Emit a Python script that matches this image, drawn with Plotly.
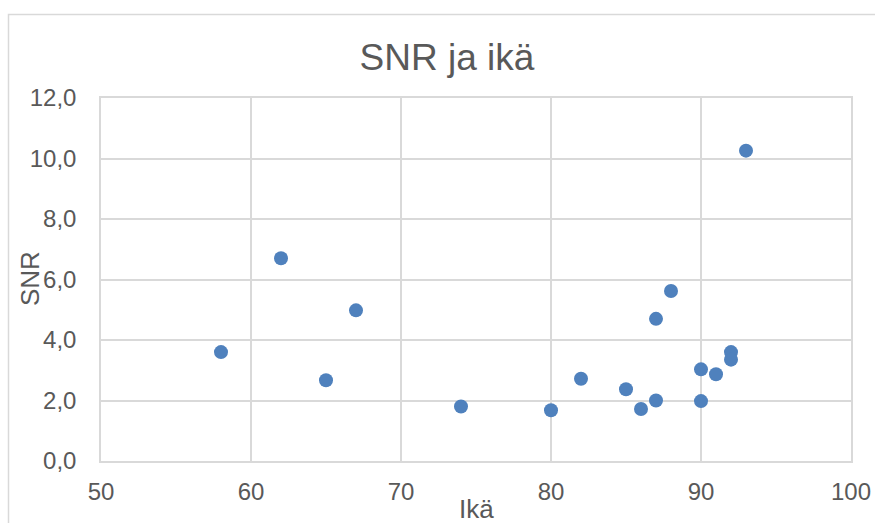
import plotly.graph_objects as go

age = [58, 62, 65, 67, 74, 80, 82, 85, 86, 87, 87, 88, 90, 90, 91, 92, 92, 93]
snr = [3.60, 6.70, 2.67, 4.98, 1.80, 1.68, 2.72, 2.37, 1.72, 4.70, 2.00, 5.62, 3.03, 1.98, 2.87, 3.60, 3.35, 10.26]

title_text = "SNR ja ikä"
x_title = "Ikä"
y_title = "SNR"
x_ticks = [50, 60, 70, 80, 90, 100]
y_ticks = [0, 2, 4, 6, 8, 10, 12]

W, H = 875, 523
L, R, T, B = 101, 24, 98, 62
pw, ph = W - L - R, H - T - B

def px(x):
    return (x - L) / pw

def py(y):
    return (H - B - y) / ph

text_color = "#595959"
grid_color = "#D9D9D9"
font_family = "Liberation Sans, Arial, sans-serif"

fig = go.Figure()
fig.add_trace(go.Scatter(
    x=age, y=snr, mode="markers",
    marker=dict(size=14, color="#4F81BD", line=dict(width=0)),
    showlegend=False,
))

fig.update_layout(
    width=W, height=H,
    margin=dict(l=L, r=R, t=T, b=B, pad=0, autoexpand=False),
    paper_bgcolor="white", plot_bgcolor="white",
    separators=", ",
    font=dict(family=font_family, color=text_color, size=24),
    title=dict(text=title_text, x=447 / W, xanchor="center",
               y=1 - 57 / H, yanchor="middle", yref="container",
               font=dict(size=37, color=text_color, family=font_family)),
    xaxis=dict(range=[50, 100], tickvals=x_ticks, showgrid=True, automargin=False,
               gridcolor=grid_color, gridwidth=1.5, zeroline=False,
               showline=True, linecolor=grid_color, linewidth=1.5, mirror=True,
               ticks="", ticklabelstandoff=8, fixedrange=True,
               tickfont=dict(size=24, color=text_color)),
    yaxis=dict(range=[0, 12], tickvals=y_ticks, tickformat=".1f", showgrid=True, automargin=False,
               gridcolor=grid_color, gridwidth=1.5, zeroline=False,
               showline=True, linecolor=grid_color, linewidth=1.5, mirror=True,
               ticks="", ticklabelstandoff=18, fixedrange=True,
               tickfont=dict(size=24, color=text_color)),
    annotations=[
        dict(text=x_title, xref="paper", yref="paper", x=px(476), y=py(509),
             xanchor="center", yanchor="middle", showarrow=False,
             font=dict(size=26, color=text_color, family=font_family)),
        dict(text=y_title, xref="paper", yref="paper", x=px(30), y=py(279),
             xanchor="center", yanchor="middle", showarrow=False, textangle=-90,
             font=dict(size=26, color=text_color, family=font_family)),
    ],
    shapes=[
        dict(type="rect", xref="paper", yref="paper",
             x0=px(8.5), x1=px(900), y0=py(14.5), y1=py(560),
             line=dict(color=grid_color, width=1.5), layer="below"),
    ],
)

fig.write_html("out.html")
